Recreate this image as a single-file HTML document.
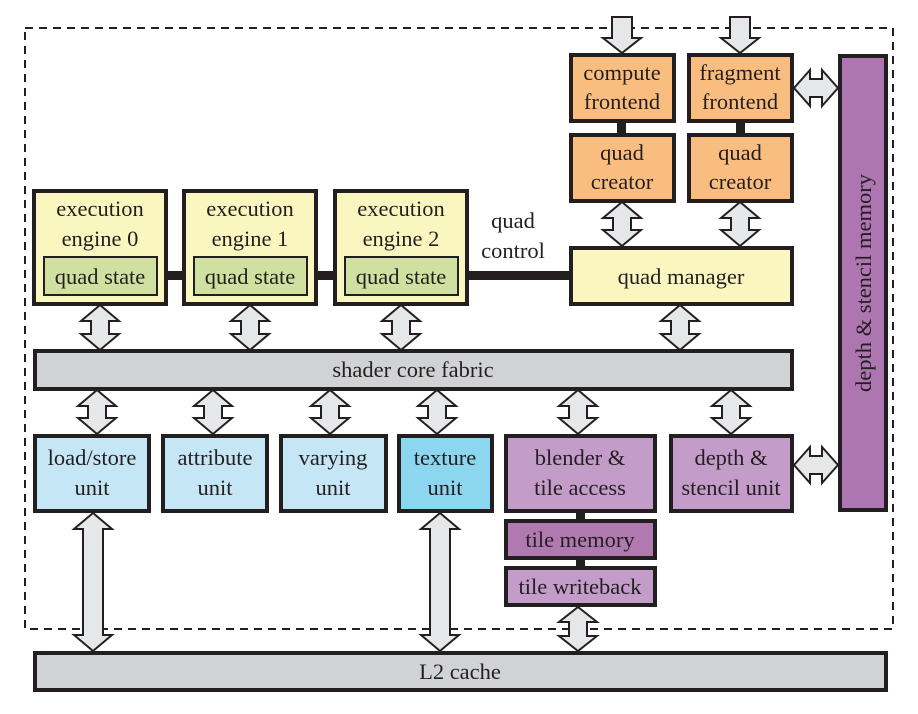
<!DOCTYPE html>
<html><head><style>
html,body{margin:0;padding:0;background:#fff;}
svg{display:block;}
text{font-family:"Liberation Serif",serif;font-size:22.5px;fill:#231f20;text-anchor:middle;}
.b{stroke:#231f20;stroke-width:4;}
.a{fill:#e6e7e8;stroke:#231f20;stroke-width:2;stroke-linejoin:miter;}
</style></head><body>
<svg width="918" height="714" viewBox="0 0 918 714" xmlns="http://www.w3.org/2000/svg">
<rect x="25" y="28" width="868" height="601" fill="none" stroke="#231f20" stroke-width="2" stroke-dasharray="8,6"/>

<rect x="160" y="271" width="30" height="9" fill="#231f20"/>
<rect x="310" y="271" width="30" height="9" fill="#231f20"/>
<rect x="455" y="271" width="120" height="9" fill="#231f20"/>
<rect x="617" y="118" width="9" height="20" fill="#231f20"/>
<rect x="736" y="118" width="9" height="20" fill="#231f20"/>
<rect x="576" y="508" width="9" height="14" fill="#231f20"/>
<rect x="576" y="555" width="9" height="14" fill="#231f20"/>

<rect class="b" x="34" y="191" width="132" height="113" fill="#faf6c0"/>
<rect x="44" y="257" width="113" height="38" fill="#cfe0a0" stroke="#231f20" stroke-width="2"/>
<text x="100" y="216">execution</text><text x="100" y="246">engine 0</text><text x="100" y="284">quad state</text>

<rect class="b" x="184" y="191" width="132" height="113" fill="#faf6c0"/>
<rect x="194" y="257" width="113" height="38" fill="#cfe0a0" stroke="#231f20" stroke-width="2"/>
<text x="250" y="216">execution</text><text x="250" y="246">engine 1</text><text x="250" y="284">quad state</text>

<rect class="b" x="335" y="191" width="132" height="113" fill="#faf6c0"/>
<rect x="345" y="257" width="113" height="38" fill="#cfe0a0" stroke="#231f20" stroke-width="2"/>
<text x="401" y="216">execution</text><text x="401" y="246">engine 2</text><text x="401" y="284">quad state</text>

<text x="513" y="228">quad</text><text x="513" y="258">control</text>

<rect class="b" x="571" y="248" width="221" height="56" fill="#faf6c0"/>
<text x="681" y="284">quad manager</text>

<rect class="b" x="571" y="55" width="103" height="66" fill="#f9bd80"/>
<text x="622" y="80">compute</text><text x="622" y="109">frontend</text>
<rect class="b" x="689" y="55" width="103" height="66" fill="#f9bd80"/>
<text x="740" y="80">fragment</text><text x="740" y="109">frontend</text>
<rect class="b" x="571" y="135" width="103" height="66" fill="#f9bd80"/>
<text x="622" y="160">quad</text><text x="622" y="189">creator</text>
<rect class="b" x="689" y="135" width="103" height="66" fill="#f9bd80"/>
<text x="740" y="160">quad</text><text x="740" y="189">creator</text>

<rect class="b" x="840" y="56" width="46" height="454" fill="#ad76b0"/>
<text transform="translate(871,283) rotate(-90)">depth &amp; stencil memory</text>

<rect class="b" x="35" y="351" width="757" height="38" fill="#d1d2d3"/>
<text x="413" y="377">shader core fabric</text>

<rect class="b" x="35" y="436" width="114" height="75" fill="#c5e6f5"/>
<text x="92" y="465">load/store</text><text x="92" y="495">unit</text>
<rect class="b" x="163" y="436" width="104" height="75" fill="#c5e6f5"/>
<text x="215" y="465">attribute</text><text x="215" y="495">unit</text>
<rect class="b" x="281" y="436" width="105" height="75" fill="#c5e6f5"/>
<text x="333" y="465">varying</text><text x="333" y="495">unit</text>
<rect class="b" x="399" y="436" width="93" height="75" fill="#8dd6f0"/>
<text x="445" y="465">texture</text><text x="445" y="495">unit</text>
<rect class="b" x="506" y="436" width="149" height="75" fill="#c39cc9"/>
<text x="580" y="465">blender &amp;</text><text x="580" y="495">tile access</text>
<rect class="b" x="671" y="436" width="121" height="75" fill="#c39cc9"/>
<text x="731" y="465">depth &amp;</text><text x="731" y="495">stencil unit</text>
<rect class="b" x="506" y="521" width="149" height="37" fill="#b07ab0"/>
<text x="580" y="547">tile memory</text>
<rect class="b" x="506" y="568" width="149" height="37" fill="#c39cc9"/>
<text x="580" y="594">tile writeback</text>

<rect class="b" x="35" y="653" width="851" height="37" fill="#d1d2d3"/>
<text x="460" y="679">L2 cache</text>

<polygon class="a" points="100,305 119,321 109,321 109,334 119,334 100,350 81,334 91,334 91,321 81,321"/>
<polygon class="a" points="250,305 269,321 259,321 259,334 269,334 250,350 231,334 241,334 241,321 231,321"/>
<polygon class="a" points="401,305 420,321 410,321 410,334 420,334 401,350 382,334 392,334 392,321 382,321"/>
<polygon class="a" points="680,305 699,321 689,321 689,334 699,334 680,350 661,334 671,334 671,321 661,321"/>

<polygon class="a" points="97,390 116,406 106,406 106,418 116,418 97,434 78,418 88,418 88,406 78,406"/>
<polygon class="a" points="213,390 232,406 222,406 222,418 232,418 213,434 194,418 204,418 204,406 194,406"/>
<polygon class="a" points="330,390 349,406 339,406 339,418 349,418 330,434 311,418 321,418 321,406 311,406"/>
<polygon class="a" points="437,390 456,406 446,406 446,418 456,418 437,434 418,418 428,418 428,406 418,406"/>
<polygon class="a" points="578,390 597,406 587,406 587,418 597,418 578,434 559,418 569,418 569,406 559,406"/>
<polygon class="a" points="731,390 750,406 740,406 740,418 750,418 731,434 712,418 722,418 722,406 712,406"/>

<polygon class="a" points="622,202 641,218 631,218 631,230 641,230 622,246 603,230 613,230 613,218 603,218"/>
<polygon class="a" points="740,202 759,218 749,218 749,230 759,230 740,246 721,230 731,230 731,218 721,218"/>

<polygon class="a" points="612,17 632,17 632,38 641,38 622,53 603,38 612,38"/>
<polygon class="a" points="730,17 750,17 750,38 759,38 740,53 721,38 730,38"/>

<polygon class="a" points="93,513 112,529 103,529 103,635 112,635 93,651 74,635 83,635 83,529 74,529"/>
<polygon class="a" points="440,513 459,529 450,529 450,635 459,635 440,651 421,635 430,635 430,529 421,529"/>
<polygon class="a" points="578,607 597,622 587,622 587,636 597,636 578,651 559,636 569,636 569,622 559,622"/>

<polygon class="a" points="794,88 810,70 810,79 822,79 822,70 838,88 822,106 822,97 810,97 810,106"/>
<polygon class="a" points="794,465 810,447 810,456 822,456 822,447 838,465 822,483 822,474 810,474 810,483"/>
</svg>
</body></html>
